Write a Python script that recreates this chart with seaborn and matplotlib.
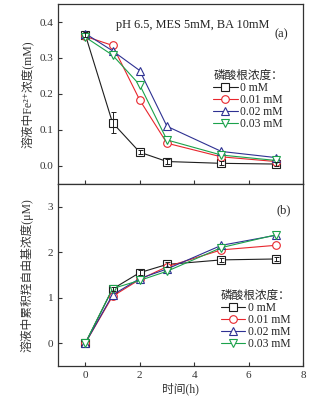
import numpy as np
import pandas as pd
import matplotlib
matplotlib.use("Agg")
import matplotlib.pyplot as plt
from matplotlib.lines import Line2D
import seaborn as sns

# données
temps = [0, 1, 2, 3, 5, 7]
concentrations = ["0 mM", "0.01 mM", "0.02 mM", "0.03 mM"]

fe_0 = [0.365, 0.120, 0.038, 0.012, 0.007, 0.005]
fe_001 = [0.360, 0.335, 0.183, 0.063, 0.025, 0.012]
fe_002 = [0.368, 0.320, 0.265, 0.110, 0.040, 0.023]
fe_003 = [0.358, 0.308, 0.225, 0.072, 0.030, 0.015]
fe_err_0 = [0.006, 0.030, 0.006, 0.006, 0.006, 0.006]

oh_0 = [0.0, 1.19, 1.55, 1.73, 1.83, 1.85]
oh_001 = [0.0, 1.03, 1.40, 1.68, 2.05, 2.15]
oh_002 = [0.0, 1.06, 1.42, 1.63, 2.15, 2.37]
oh_003 = [0.0, 1.20, 1.38, 1.58, 2.10, 2.38]
oh_err = [0.05, 0.05, 0.05, 0.05, 0.05, 0.05]

couleurs = ["#1e1e1e", "#e8262d", "#2e3192", "#1ba24b"]
marqueurs = ["s", "o", "^", "v"]

fe_df = pd.DataFrame({
    "t": temps * 4,
    "val": fe_0 + fe_001 + fe_002 + fe_003,
    "conc": [c for c in concentrations for _ in temps],
})
oh_df = pd.DataFrame({
    "t": temps * 4,
    "val": oh_0 + oh_001 + oh_002 + oh_003,
    "conc": [c for c in concentrations for _ in temps],
})

sns.set_style("ticks")
plt.rcParams["font.family"] = ["Liberation Serif", "DejaVu Serif", "Noto Sans CJK SC"]
plt.rcParams["axes.linewidth"] = 0.9

fig = plt.figure(figsize=(3.28, 4.04), dpi=100)
ax1 = fig.add_axes([0.177, 0.545, 0.747, 0.445])
ax2 = fig.add_axes([0.177, 0.094, 0.747, 0.451])

pal = dict(zip(concentrations, couleurs))
mk = dict(zip(concentrations, marqueurs))

for ax, df in [(ax1, fe_df), (ax2, oh_df)]:
    sns.lineplot(data=df, x="t", y="val", hue="conc", style="conc",
                 palette=pal, markers=mk, dashes=False, legend=False,
                 linewidth=0.8, markersize=5.5, markerfacecolor="white",
                 markeredgewidth=0.8, ax=ax)
    # seaborn met le bord des marqueurs en blanc -> on remet la couleur de la ligne
    for ln in ax.get_lines():
        ln.set_markeredgecolor(ln.get_color())

# barres d'erreur
ax1.errorbar(temps, fe_0, yerr=fe_err_0, fmt="none", ecolor=couleurs[0],
             elinewidth=0.7, capsize=1.8, capthick=0.7, zorder=5)
ax2.errorbar(temps[1:], oh_0[1:], yerr=oh_err[1:], fmt="none", ecolor=couleurs[0],
             elinewidth=0.7, capsize=1.8, capthick=0.7, zorder=5)

for ax in (ax1, ax2):
    ax.set_xlim(-1, 8)
    ax.set_xticks([0, 2, 4, 6, 8])
    ax.tick_params(direction="in", length=3, width=0.8, labelsize=8,
                   top=False, right=False, colors="#333333")
    for s in ax.spines.values():
        s.set_visible(True)
        s.set_color("#333333")
    ax.set_xlabel("")

ax1.set_ylim(-0.05, 0.45)
ax1.set_yticks([0.0, 0.1, 0.2, 0.3, 0.4])
ax1.set_yticklabels(["0.0", "0.1", "0.2", "0.3", "0.4"])
ax1.tick_params(labelbottom=False)
ax1.set_ylabel("溶液中Fe²⁺浓度(mM)", fontsize=8.5, labelpad=4, color="#333333")

ax2.set_ylim(-0.5, 3.5)
ax2.set_yticks([0, 1, 2, 3])
ax2.set_ylabel("溶液中累积羟自由基浓度(μM)", fontsize=8.5, labelpad=10, color="#333333")
ax2.set_xlabel("时间(h)", fontsize=8.5, labelpad=2, color="#333333")

ax1.text(3.93, 0.393, "pH 6.5, MES 5mM, BA 10mM", fontsize=8.8,
         ha="center", va="center", color="#222222")
ax1.text(7.2, 0.365, "(a)", fontsize=9, ha="center", va="center")
ax2.text(7.3, 2.92, "(b)", fontsize=9, ha="center", va="center")

handles = [Line2D([], [], color=c, marker=m, markerfacecolor="white",
                  markeredgecolor=c, markersize=5.5, markeredgewidth=0.8,
                  linewidth=0.8)
           for c, m in zip(couleurs, marqueurs)]

for ax, loc in [(ax1, (0.633, 0.635)), (ax2, (0.665, 0.415))]:
    leg = ax.legend(handles, concentrations, title="磷酸根浓度：",
                    loc="upper left", bbox_to_anchor=loc, frameon=False,
                    fontsize=8.4, title_fontsize=8.4, handlelength=2.1,
                    handletextpad=0.2, labelspacing=0.0, borderpad=0,
                    borderaxespad=0)
    leg._legend_box.align = "left"

fig.savefig("out.png", dpi=100)
